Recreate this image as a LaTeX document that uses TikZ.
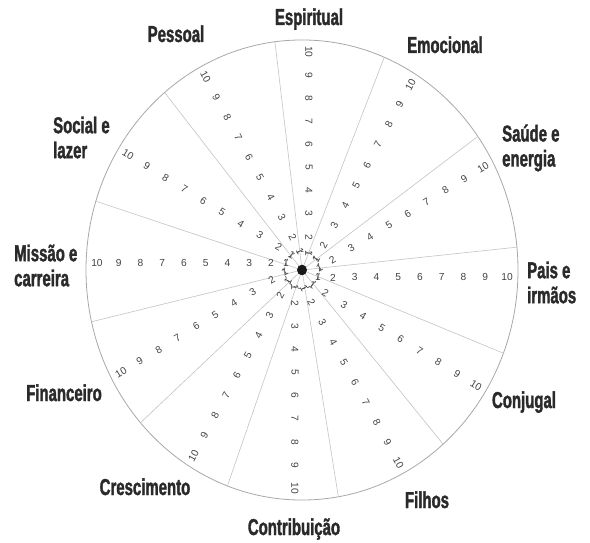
\documentclass[tikz,border=0pt]{standalone}
\usepackage{fontspec}
\setmainfont{Liberation Sans}
\newfontfamily\labfont[FakeStretch=0.65, BoldFeatures={FakeBold=1.5}]{Liberation Sans}
\usetikzlibrary{calc}
\definecolor{numgray}{HTML}{444444}
\definecolor{labgray}{HTML}{2A2A2A}
\definecolor{spokegray}{HTML}{C4C4C4}
\definecolor{rimgray}{HTML}{A8A8A8}
\definecolor{dashgray}{HTML}{555555}
\begin{document}
\begin{tikzpicture}[x=1pt,y=1pt,
  lab/.style={font=\labfont\bfseries\fontsize{23}{25}\selectfont, text=labgray, inner sep=0pt, align=left},
  num/.style={font=\fontsize{10.2}{12}\selectfont, text=numgray, inner sep=0pt},
  spoke/.style={draw=spokegray, line width=0.6pt},
  rim/.style={draw=rimgray, line width=0.8pt},
  ring/.style={draw=dashgray, line width=0.7pt, dash pattern=on 2.5pt off 2pt}]
\useasboundingbox (0,0) rectangle (590,542);
\fill[white] (0,0) rectangle (590,542);
\begin{scope}[shift={(302,272)}, yscale=1.065]
  \coordinate (C) at (0,0);
  \draw[rim] (C) circle (216);
  \foreach \a [count=\i] in {97.2,67.6,35.5,5.7,-21.2,-49.2,-80.3,-110.2,-138.4,-167,162.6,129.5} {
    \coordinate (s\i) at (\a:216);
    \draw[spoke] (C) -- (s\i);
  }
  \draw[ring] (C) circle (17.5);
  \fill[black!90] (C) circle (5);
  \foreach \ang/\rot in {0/0,30/31.6,60/61.5,90/-90,120/-61.5,150/-31.6,180/0,210/31.6,240/61.5,270/-90,300/-61.5,330/-31.6} {
    \foreach \val in {1,...,10} {
      \pgfmathsetmacro\rad{ifthenelse(\val==1,16,31+(\val-2)*21.75)}
      \node[num, rotate=\rot] (n\ang-\val) at ($(\ang:\rad)+(\ang-90:7)$) {\val};
    }
  }
\end{scope}
\node[lab, anchor=base] (espiritual) at (309,517) {Espiritual};
\node[lab, anchor=base] (emocional) at (445,489) {Emocional};
\node[lab, anchor=west] (saude) at (502,394) {Saúde e\\energia};
\node[lab, anchor=west] (pais) at (527,259.5) {Pais e\\irmãos};
\node[lab, anchor=base] (conjugal) at (524,134) {Conjugal};
\node[lab, anchor=base] (filhos) at (427,34) {Filhos};
\node[lab, anchor=base] (contrib) at (294,7) {Contribuição};
\node[lab, anchor=base] (cresc) at (145,47) {Crescimento};
\node[lab, anchor=base] (fin) at (64,141) {Financeiro};
\node[lab, anchor=west] (missao) at (14,276.5) {Missão e\\carreira};
\node[lab, anchor=west] (social) at (53,404.5) {Social e\\lazer};
\node[lab, anchor=base] (pessoal) at (176,500) {Pessoal};
\end{tikzpicture}
\end{document}
